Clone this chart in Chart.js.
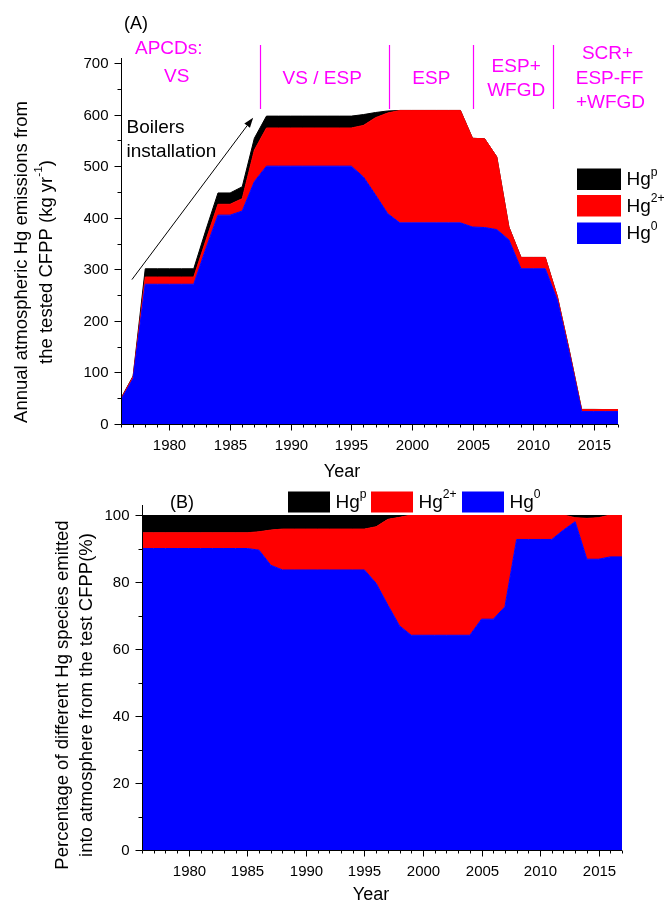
<!DOCTYPE html>
<html>
<head>
<meta charset="utf-8">
<script src="https://cdn.jsdelivr.net/npm/chart.js@4.4.1/dist/chart.umd.min.js"></script>
<style>
  html, body { margin: 0; padding: 0; background: #fff; }
  #wrap { position: relative; width: 667px; height: 908px; }
  canvas { position: absolute; left: 0; }
  #emis { top: 0; }
  #share { top: 475px; }
</style>
</head>
<body>
<div id="wrap">
  <canvas id="emis" width="667" height="490"></canvas>
  <canvas id="share" width="667" height="433"></canvas>
</div>
<script>
// ---- data ----
const years = [1976, 1977, 1978, 1979, 1980, 1981, 1982, 1983, 1984, 1985, 1986, 1987,
  1988, 1989, 1990, 1991, 1992, 1993, 1994, 1995, 1996, 1997, 1998, 1999,
  2000, 2001, 2002, 2003, 2004, 2005, 2006, 2007, 2008, 2009, 2010, 2011,
  2012, 2013, 2014, 2015, 2016, 2017];

// (A) annual emissions, kg/yr
const emisHg0 = [47, 88, 271, 271, 271, 271, 271, 340, 405, 405, 413, 470,
  500, 500, 500, 500, 500, 500, 500, 500, 479, 444, 408, 390,
  390, 390, 390, 390, 390, 382, 381, 377, 357, 301, 301, 301,
  240, 135, 24, 24, 24, 24];
const emisHg2 = [2, 4, 14, 14, 14, 14, 14, 16, 21, 21, 24, 61,
  74, 74, 74, 74, 74, 74, 74, 74, 100, 150, 195, 218,
  218, 218, 218, 218, 218, 172, 172, 141, 25, 22, 22, 22,
  7, 5, 4, 4, 4, 4];
const emisHgp = [1, 1, 16, 16, 16, 16, 16, 20, 22, 22, 23, 23,
  23, 23, 23, 23, 23, 23, 23, 23, 21, 10, 4, 0,
  0, 0, 0, 0, 0, 0, 0, 0, 0, 0, 0, 0,
  0, 1, 0.3, 0.3, 0, 0];

// (B) species share, %
const pctHg0 = [90.0, 90.0, 90.0, 90.0, 90.0, 90.0, 90.0, 90.0, 90.0, 90.0, 89.5, 85.0,
  83.6, 83.6, 83.6, 83.6, 83.6, 83.6, 83.6, 83.6, 79.6, 73.1, 66.9, 64.1,
  64.1, 64.1, 64.1, 64.1, 64.1, 68.9, 68.9, 72.6, 92.7, 92.7, 92.7, 92.7,
  95.5, 98.0, 86.8, 86.8, 87.5, 87.5];
const pctHg2 = [4.7, 4.7, 4.7, 4.7, 4.7, 4.7, 4.7, 4.7, 4.7, 4.7, 5.5, 10.5,
  12.2, 12.2, 12.2, 12.2, 12.2, 12.2, 12.2, 12.2, 16.9, 25.6, 32.4, 35.9,
  35.9, 35.9, 35.9, 35.9, 35.9, 31.1, 31.1, 27.4, 7.3, 7.3, 7.3, 7.3,
  4.5, 1.2, 12.2, 12.4, 12.5, 12.5];
const pctHgp = [5.3, 5.3, 5.3, 5.3, 5.3, 5.3, 5.3, 5.3, 5.3, 5.3, 5.0, 4.5,
  4.2, 4.2, 4.2, 4.2, 4.2, 4.2, 4.2, 4.2, 3.5, 1.3, 0.7, 0,
  0, 0, 0, 0, 0, 0, 0, 0, 0, 0, 0, 0,
  0, 0.8, 1.0, 0.8, 0, 0];

// control-device periods (boundaries in years) and their labels
const periodBounds = [1987.5, 1998.1, 2005.05, 2011.6];
const periodLabels = [
  { at: 1980.6, lines: ['APCDs:', 'VS'], dy: [48.5, 77], dx: [-8, 0] },
  { at: 1992.6, lines: ['VS / ESP'], dy: [78.5] },
  { at: 2001.6, lines: ['ESP'], dy: [78.5] },
  { at: 2008.6, lines: ['ESP+', 'WFGD'], dy: [67, 91] },
  { at: 2016.3, lines: ['SCR+', 'ESP-FF', '+WFGD'], dy: [54, 78.5, 103], dx: [-2, 0, 1] }
];

const speciesNames = [
  [['Hg', false], ['0', true]],
  [['Hg', false], ['2+', true]],
  [['Hg', false], ['p', true]]
];
const speciesColors = ['#0000FF', '#FF0000', '#000000'];

const FONT = '"Liberation Sans", Arial, Helvetica, sans-serif';

// text with superscript pieces, baseline 'middle'
function richText(ctx, parts, x, y, size, align) {
  const sup = size * 0.64;
  let w = 0;
  parts.forEach(p => { ctx.font = (p[1] ? sup : size) + 'px ' + FONT; w += ctx.measureText(p[0]).width; });
  let cx = align === 'center' ? x - w / 2 : (align === 'right' ? x - w : x);
  ctx.textAlign = 'left';
  ctx.textBaseline = 'middle';
  parts.forEach(p => {
    ctx.font = (p[1] ? sup : size) + 'px ' + FONT;
    ctx.fillText(p[0], cx, p[1] ? y - size * 0.42 : y);
    cx += ctx.measureText(p[0]).width;
  });
}

function seg(ctx, x1, y1, x2, y2) {
  ctx.beginPath(); ctx.moveTo(x1, y1); ctx.lineTo(x2, y2); ctx.stroke();
}

// axes, ticks, titles and legend drawn on top of the areas
const frame = {
  id: 'frame',
  afterDraw(chart, args, o) {
    const { ctx, chartArea: a, scales: { x, y } } = chart;
    ctx.save();
    ctx.strokeStyle = '#000';
    ctx.fillStyle = '#000';
    ctx.lineWidth = 1;
    const L = Math.round(a.left) + 0.5, B = Math.round(a.bottom) + 0.5;
    seg(ctx, L, a.top - o.axisOver, L, B);
    seg(ctx, L, B, Math.round(a.right), B);

    // y ticks
    ctx.font = '15px ' + FONT;
    ctx.textAlign = 'right';
    ctx.textBaseline = 'middle';
    for (let v = o.yMin; v <= o.yMax + 1e-9; v += o.yMinor) {
      const py = Math.round(y.getPixelForValue(v)) + 0.5;
      const major = Math.abs(v % o.yMajor) < 1e-9;
      seg(ctx, L - (major ? 7 : 4), py, L, py);
      if (major) ctx.fillText(String(v), L - 13, py);
    }
    // x ticks
    ctx.textAlign = 'center';
    years.forEach(yr => {
      const px = Math.round(x.getPixelForValue(yr)) + 0.5;
      const major = yr % 5 === 0;
      seg(ctx, px, B, px, B + (major ? 6 : 3));
      if (major) ctx.fillText(String(yr), px, B + 21.5);
    });

    // axis titles
    ctx.font = '18px ' + FONT;
    ctx.textAlign = 'center';
    ctx.fillText('Year', o.xTitle[0], o.xTitle[1]);
    o.yTitle.forEach(t => {
      ctx.save();
      ctx.translate(t.x, t.y);
      ctx.rotate(-Math.PI / 2);
      richText(ctx, t.parts, 0, 0, 18.5, 'center');
      ctx.restore();
    });

    // panel tag
    ctx.font = '18px ' + FONT;
    ctx.textAlign = 'center';
    ctx.textBaseline = 'middle';
    ctx.fillText(o.tag[0], o.tag[1], o.tag[2]);

    // legend
    const order = [2, 1, 0];
    order.forEach((di, k) => {
      const ds = chart.data.datasets[di];
      const bx = o.legend.x[k], by = o.legend.y[k];
      ctx.fillStyle = ds.backgroundColor;
      ctx.fillRect(bx, by, o.legend.w, o.legend.h);
      ctx.fillStyle = '#000';
      richText(ctx, speciesNames[di], bx + o.legend.w + 5.5, by + o.legend.h / 2 + 1, 19, 'left');
    });
    ctx.restore();
  }
};

// control-device periods and the boiler arrow, panel (A) only
const periods = {
  id: 'periods',
  afterDraw(chart) {
    const { ctx, scales: { x, y } } = chart;
    ctx.save();
    ctx.strokeStyle = '#FF00FF';
    ctx.fillStyle = '#FF00FF';
    ctx.lineWidth = 1.2;
    periodBounds.forEach(b => {
      const px = Math.round(x.getPixelForValue(b)) + 0.5;
      seg(ctx, px, 45, px, 109);
    });
    ctx.font = '19px ' + FONT;
    ctx.textAlign = 'center';
    ctx.textBaseline = 'middle';
    periodLabels.forEach(p => {
      const px = x.getPixelForValue(p.at);
      p.lines.forEach((t, i) => ctx.fillText(t, px + (p.dx ? p.dx[i] : 0), p.dy[i]));
    });

    // boilers installation arrow
    const x1 = x.getPixelForValue(1976.9), y1 = y.getPixelForValue(280);
    const x2 = x.getPixelForValue(1986.9), y2 = y.getPixelForValue(594);
    ctx.strokeStyle = '#000';
    ctx.fillStyle = '#000';
    ctx.lineWidth = 1;
    const ang = Math.atan2(y2 - y1, x2 - x1);
    const hl = 10, hw = 3.5;
    const bx = x2 - hl * Math.cos(ang), by = y2 - hl * Math.sin(ang);
    seg(ctx, x1, y1, bx, by);
    ctx.beginPath();
    ctx.moveTo(x2, y2);
    ctx.lineTo(bx + hw * Math.sin(ang), by - hw * Math.cos(ang));
    ctx.lineTo(bx - hw * Math.sin(ang), by + hw * Math.cos(ang));
    ctx.closePath();
    ctx.fill();
    ctx.font = '19px ' + FONT;
    ctx.textAlign = 'left';
    ctx.fillText('Boilers', 126.5, 128);
    ctx.fillText('installation', 126.5, 152);
    ctx.restore();
  }
};

function areaSets(arrs) {
  return arrs.map((arr, i) => ({
    label: speciesNames[i].map(p => p[0]).join(''),
    data: years.map((yr, k) => ({ x: yr, y: arr[k] })),
    backgroundColor: speciesColors[i],
    borderColor: speciesColors[i],
    borderWidth: 1,
    pointRadius: 0,
    tension: 0,
    fill: i === 0 ? 'origin' : '-1'
  }));
}

function baseOptions(pad, yMax, frameOpts) {
  return {
    responsive: false,
    animation: false,
    events: [],
    layout: { padding: pad },
    scales: {
      x: { type: 'linear', min: 1976, max: 2017, display: false },
      y: { stacked: true, min: 0, max: yMax, display: false }
    },
    plugins: {
      legend: { display: false },
      tooltip: { enabled: false },
      frame: frameOpts
    }
  };
}

new Chart(document.getElementById('emis'), {
  type: 'line',
  data: { datasets: areaSets([emisHg0, emisHg2, emisHgp]) },
  options: baseOptions({ left: 121, right: 49, top: 63, bottom: 66 }, 700, {
    axisOver: 5, yMin: 0, yMax: 700, yMajor: 100, yMinor: 50,
    xTitle: [342, 472],
    yTitle: [
      { x: 22, y: 262, parts: [['Annual atmospheric Hg emissions from', false]] },
      { x: 47, y: 262, parts: [['the tested CFPP (kg yr', false], ['-1', true], [')', false]] }
    ],
    tag: ['(A)', 136, 24],
    legend: { x: [577, 577, 577], y: [168.5, 195, 222.5], w: 44, h: 21.5 }
  }),
  plugins: [frame, periods]
});

new Chart(document.getElementById('share'), {
  type: 'line',
  data: { datasets: areaSets([pctHg0, pctHg2, pctHgp]) },
  options: baseOptions({ left: 142, right: 45, top: 40, bottom: 58 }, 100, {
    axisOver: 10, yMin: 0, yMax: 100, yMajor: 20, yMinor: 10,
    xTitle: [371, 420],
    yTitle: [
      { x: 63, y: 220, parts: [['Percentage of different Hg species emitted', false]] },
      { x: 87, y: 220, parts: [['into atmosphere from the test CFPP(%)', false]] }
    ],
    tag: ['(B)', 182, 28],
    legend: { x: [288, 371, 462], y: [16.5, 16.5, 16.5], w: 42, h: 21 }
  }),
  plugins: [frame]
});
</script>
</body>
</html>
